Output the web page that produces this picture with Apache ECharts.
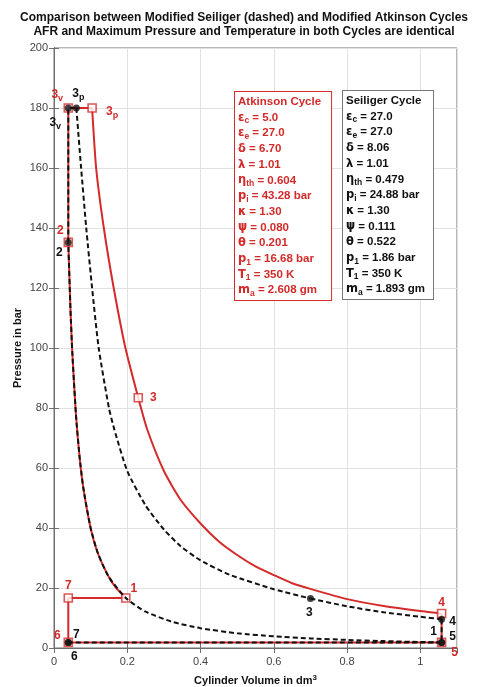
<!DOCTYPE html>
<html><head><meta charset="utf-8">
<script src="https://cdn.jsdelivr.net/npm/echarts@6/dist/echarts.min.js"></script>
<style>html,body{margin:0;padding:0;background:#fff}#c{width:488px;height:687px}</style>
</head><body><div id="c"></div><script>
// ---------- DATA ----------
const titleLines = ['Comparison between Modified Seiliger (dashed) and Modified Atkinson Cycles',
                    'AFR and Maximum Pressure and Temperature in both Cycles are identical'];
const xName = 'Cylinder Volume in dm';
const yName = 'Pressure in bar';

// Atkinson cycle (red, solid)
const atkCompV = [0.196, 0.17, 0.15, 0.12, 0.10, 0.08, 0.07, 0.06, 0.05, 0.045, 0.039];
const atkCompP = [16.68, 20.0, 23.6, 31.5, 40.0, 53.4, 63.5, 77.6, 98.4, 112.7, 135.2];
const atkHeatV = [0.039, 0.039, 0.104];
const atkHeatP = [135.2, 180, 180];
const atkIsoV = [0.104, 0.115, 0.136, 0.163, 0.195, 0.230];
const atkIsoP = [180, 160, 140, 120, 100, 83.4];
const atkExpV = [0.230, 0.254, 0.30, 0.345, 0.40, 0.45, 0.50, 0.55, 0.60, 0.65, 0.70, 0.80, 0.90, 1.00, 1.058];
const atkExpP = [83.4, 73.0, 59.0, 49.5, 41.5, 35.5, 31.0, 27.2, 24.3, 21.6, 19.7, 16.3, 14.0, 12.3, 11.5];
const atkExhV = [1.058, 1.058, 0.039, 0.039, 0.196];
const atkExhP = [11.5, 1.86, 1.86, 16.68, 16.68];
const atkPtNames = ['2', '3v', '3p', '3', '4', '5', '6', '7', '1'];
const atkPtV = [0.039, 0.039, 0.104, 0.230, 1.058, 1.058, 0.039, 0.039, 0.196];
const atkPtP = [135.2, 180, 180, 83.4, 11.5, 1.86, 1.86, 16.68, 16.68];

// Seiliger cycle (black, dashed)
const selCompV = [1.058, 1.0, 0.9, 0.8, 0.7, 0.6, 0.5, 0.4, 0.326, 0.25, 0.196, 0.15, 0.12, 0.10, 0.08, 0.07, 0.06, 0.05, 0.045, 0.039];
const selCompP = [1.86, 2.0, 2.3, 2.7, 3.2, 3.9, 4.9, 6.6, 8.6, 12.1, 16.68, 23.6, 31.5, 40.0, 53.4, 63.5, 77.6, 98.4, 112.7, 135.2];
const selHeatV = [0.039, 0.039, 0.061];
const selHeatP = [135.2, 180, 180];
const selIsoV = [0.061, 0.074, 0.088, 0.104, 0.122, 0.150, 0.165, 0.20, 0.25, 0.30, 0.345, 0.40, 0.48, 0.60, 0.70];
const selIsoP = [180, 160, 140, 120, 100, 80, 72.7, 59.0, 47.5, 39.5, 34.0, 29.2, 24.4, 19.6, 16.5];
const selExpV = [0.70, 0.80, 0.90, 1.00, 1.058];
const selExpP = [16.5, 13.9, 11.9, 10.4, 9.6];
const selExhV = [1.058, 1.058, 0.039];
const selExhP = [9.6, 1.86, 1.86];
const selPtNames = ['1', '2', '3v', '3p', '3', '4', '5', '6', '7'];
const selPtV = [1.058, 0.039, 0.039, 0.061, 0.700, 1.058, 1.058, 0.039, 0.039];
const selPtP = [1.86, 135.2, 180, 180, 16.5, 9.6, 1.86, 1.86, 1.86];

// parameter boxes: [symbol, subscript, value]
const atkTitle = 'Atkinson Cycle';
const atkParams = [['ε','c','5.0'],['ε','e','27.0'],['δ','','6.70'],['λ','','1.01'],['η','th','0.604'],
  ['p','i','43.28 bar'],['κ','','1.30'],['ψ','','0.080'],['θ','','0.201'],['p','1','16.68 bar'],
  ['T','1','350 K'],['m','a','2.608 gm']];
const selTitle = 'Seiliger Cycle';
const selParams = [['ε','c','27.0'],['ε','e','27.0'],['δ','','8.06'],['λ','','1.01'],['η','th','0.479'],
  ['p','i','24.88 bar'],['κ','','1.30'],['ψ','','0.111'],['θ','','0.522'],['p','1','1.86 bar'],
  ['T','1','350 K'],['m','a','1.893 gm']];

// ---------- STYLE ----------
const RED = '#d42a2a', BLK = '#111111';
const atkLabelOffset = {'2':[-8,-12],'3v':[-11,-13],'3p':[20,4],'3':[15,0],'4':[0,-11],'5':[13,10],'6':[-11,-7],'7':[0,-12],'1':[8,-9]};
const selLabelOffset = {'1':[-8,-11],'2':[-9,10],'3v':[-13,15],'3p':[2,-14],'3':[-1,14],'4':[11,2],'5':[11,-6],'6':[6,14],'7':[8,-8]};

const zip = (a, b) => a.map((v, i) => [v, b[i]]);
function ptLabel(n) {
  const main = n.charAt(0), sub = n.slice(1);
  return sub ? '{m|' + main + '}{s|' + sub + '}' : '{m|' + main + '}';
}
function labelRich(color) {
  return {
    m: {fontSize: 12, fontWeight: 'bold', color: color, opacity: 1, fontFamily: 'Liberation Sans, Arial', lineHeight: 16, textBorderWidth: 0},
    s: {fontSize: 9, fontWeight: 'bold', color: color, opacity: 1, fontFamily: 'Liberation Sans, Arial', lineHeight: 16, verticalAlign: 'bottom', padding: [8,0,0,0], textBorderWidth: 0}
  };
}
function lineSeries(v, p, color, dashed, smooth, z) {
  return {type: 'line', data: zip(v, p), symbol: 'none', smooth: smooth ? 0.2 : false, z: z,
    lineStyle: {color: color, width: 2, type: dashed ? [5, 3] : 'solid'}, silent: true, animation: false};
}
function labelSeries(names, v, p, offs, color) {
  return {type: 'scatter', symbolSize: 2, itemStyle: {color: 'rgba(255,255,255,0)'}, z: 10, animation: false, silent: true,
    labelLayout: {hideOverlap: false},
    data: names.map((n, i) => ({value: [v[i], p[i]], label: {show: true, opacity: 1, color: color,
      textBorderWidth: 0, textShadowBlur: 0,
      position: [1 + offs[n][0], 1 + offs[n][1]], align: 'center', verticalAlign: 'middle',
      formatter: ptLabel(n), rich: labelRich(color)}}))};
}
function boxText(title, params) {
  let s = '{t|' + title + '}';
  params.forEach(r => {
    s += '\n{g|' + r[0] + '}' + (r[1] ? '{s|' + r[1] + '}' : '') + '{v| = ' + r[2] + '}';
  });
  return s;
}
function boxRich(color) {
  const f = 'Liberation Sans, Arial';
  return {
    t: {fill: color, fontSize: 11.5, fontWeight: 'bold', fontFamily: f, lineHeight: 15.7},
    g: {fill: color, fontSize: 11.5, fontWeight: 'bold', fontFamily: 'DejaVu Sans', lineHeight: 15.7},
    s: {fill: color, fontSize: 8.5, fontWeight: 'bold', fontFamily: f, lineHeight: 15.7, verticalAlign: 'bottom', padding: [6,0,0,0]},
    v: {fill: color, fontSize: 11.5, fontWeight: 'bold', fontFamily: f, lineHeight: 15.7}
  };
}

const chart = echarts.init(document.getElementById('c'), null, {renderer: 'canvas'});
const tickFmt = v => (Math.abs(v * 5 - Math.round(v * 5)) < 1e-6 && v <= 1.0001) ? String(+v.toFixed(1)) : '';
const axisCommon = {
  axisLine: {show: true, lineStyle: {color: '#6e6e6e'}},
  axisTick: {show: true, inside: true, length: 5, lineStyle: {color: '#6e6e6e'}},
};
chart.setOption({
  backgroundColor: '#fff',
  animation: false,
  title: {text: titleLines.join('\n'), left: 'center', top: 6,
    textStyle: {fontSize: 12, fontWeight: 'bold', fontFamily: 'Liberation Sans, Arial', color: '#111', lineHeight: 14}},
  grid: {left: 54, right: 31, top: 48, bottom: 39, show: true, borderColor: '#6e6e6e', borderWidth: 1,
    containLabel: false, outerBoundsMode: 'none'},
  xAxis: [
    Object.assign({type: 'value', min: 0, max: 1.1, interval: 0.2, position: 'bottom',
      name: xName + '{sup|3}', nameLocation: 'middle', nameGap: 26,
      nameTextStyle: {fontSize: 11, fontWeight: 'bold', color: '#111', fontFamily: 'Liberation Sans, Arial',
        rich: {sup: {fontSize: 8, fontWeight: 'bold', color: '#111', verticalAlign: 'top', padding: [0,0,6,0]}}},
      axisLabel: {formatter: tickFmt, color: '#444', fontSize: 11, fontFamily: 'Liberation Sans, Arial', margin: 8, showMaxLabel: false},
      splitLine: {show: true, lineStyle: {color: '#e2e2e2', width: 1}}}, axisCommon),
    Object.assign({type: 'value', min: 0, max: 1.1, interval: 0.2, position: 'top',
      axisLabel: {show: false}, splitLine: {show: false}}, axisCommon)
  ],
  yAxis: [
    Object.assign({type: 'value', min: 0, max: 200, interval: 20, position: 'left',
      name: yName, nameLocation: 'middle', nameGap: 31, nameMoveOverlap: false,
      nameTextStyle: {fontSize: 11, fontWeight: 'bold', color: '#111', fontFamily: 'Liberation Sans, Arial'},
      axisLabel: {color: '#444', fontSize: 11, fontFamily: 'Liberation Sans, Arial', margin: 6},
      splitLine: {show: true, lineStyle: {color: '#e2e2e2', width: 1}}}, axisCommon),
    Object.assign({type: 'value', min: 0, max: 200, interval: 20, position: 'right',
      axisLabel: {show: false}, splitLine: {show: false}}, axisCommon)
  ],
  series: [
    lineSeries(atkCompV, atkCompP, RED, false, true, 2),
    lineSeries(atkHeatV, atkHeatP, RED, false, false, 2),
    lineSeries(atkIsoV, atkIsoP, RED, false, true, 2),
    lineSeries(atkExpV, atkExpP, RED, false, true, 2),
    lineSeries(atkExhV, atkExhP, RED, false, false, 2),
    {type: 'scatter', data: zip(atkPtV, atkPtP), symbol: 'rect', symbolSize: 8, z: 3, animation: false, silent: true,
      itemStyle: {color: '#fff', borderColor: RED, borderWidth: 1.6}},
    lineSeries(selCompV, selCompP, BLK, true, true, 4),
    lineSeries(selHeatV, selHeatP, BLK, true, false, 4),
    lineSeries(selIsoV, selIsoP, BLK, true, true, 4),
    lineSeries(selExpV, selExpP, BLK, true, true, 4),
    lineSeries(selExhV, selExhP, BLK, true, false, 4),
    {type: 'scatter', data: zip(selPtV, selPtP), symbol: 'circle', symbolSize: 7, z: 5, animation: false, silent: true,
      itemStyle: {color: BLK}},
    labelSeries(atkPtNames, atkPtV, atkPtP, atkLabelOffset, RED),
    labelSeries(selPtNames, selPtV, selPtP, selLabelOffset, BLK)
  ],
  graphic: [
    {type: 'text', left: 234, top: 91, z: 20, silent: true,
      style: {text: boxText(atkTitle, atkParams), rich: boxRich(RED), fill: RED,
        backgroundColor: '#fff', borderColor: RED, borderWidth: 1, padding: [2, 10, 2, 3]}},
    {type: 'text', left: 342, top: 90, z: 20, silent: true,
      style: {text: boxText(selTitle, selParams), rich: boxRich(BLK), fill: BLK,
        backgroundColor: '#fff', borderColor: '#777', borderWidth: 1, padding: [2, 8, 2, 3]}}
  ]
});
</script></body></html>
